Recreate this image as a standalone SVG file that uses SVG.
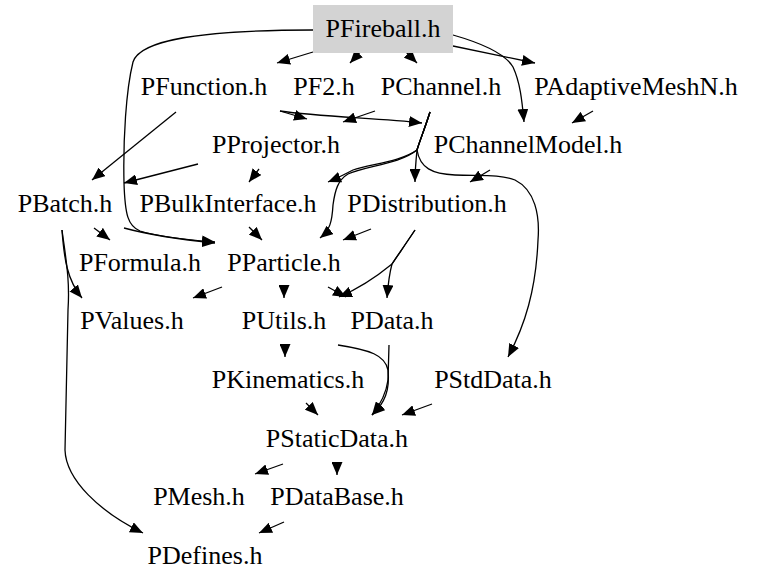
<svg xmlns="http://www.w3.org/2000/svg" width="757" height="587" viewBox="0 0 757 587">
<style>
text{font-family:"Liberation Serif","Times New Roman",serif;font-size:26px;fill:#000;text-anchor:middle}
.e path{fill:none;stroke:#000;stroke-width:1.3}
</style>
<defs>
<marker id="ah" markerUnits="userSpaceOnUse" markerWidth="14" markerHeight="11" refX="13" refY="5.5" orient="auto">
<path d="M0,0 L13,5.5 L0,11 z" fill="#000"/>
</marker>
</defs>
<rect width="757" height="587" fill="#fff"/>
<g class="e" id="edges">
<path marker-end="url(#ah)" d="M313,52 L277,63"/>
<path marker-end="url(#ah)" d="M362,50 L350,63"/>
<path marker-end="url(#ah)" d="M404,50 L417,63"/>
<path marker-end="url(#ah)" d="M453,46 L535,63"/>
<path marker-end="url(#ah)" d="M453,35 C488,45 506,55 513,67 C520,82 522,100 524,122"/>
<path marker-end="url(#ah)" d="M313,30 C200,30 140,40 133,62 C126,90 123,140 124,183 C125,215 128,226 140,231 C160,237 190,240 215,242"/>
<path marker-end="url(#ah)" d="M124,228 C150,235 185,240 215,243"/>
<path marker-end="url(#ah)" d="M176,112 L92,180"/>
<path marker-end="url(#ah)" d="M280,111 L307,119"/>
<path marker-end="url(#ah)" d="M280,111 C320,117 380,118 422,123"/>
<path marker-end="url(#ah)" d="M375,111 L343,122"/>
<path marker-end="url(#ah)" d="M430,112 C425,128 420,140 417,150 C400,162 370,164 353,170 C345,174 338,178 328,182"/>
<path marker-end="url(#ah)" d="M430,112 C425,128 420,140 417,150 C400,164 365,166 348,174 C338,180 335,190 333,205 C332,222 330,230 320,238"/>
<path marker-end="url(#ah)" d="M430,112 C425,128 420,140 417,150 C416,160 415,170 415,182"/>
<path marker-end="url(#ah)" d="M430,112 C425,128 420,140 417,150 C420,168 432,174 455,175 C480,176 500,174 515,180 C535,190 540,215 538,240 C536,290 525,325 508,357"/>
<path marker-end="url(#ah)" d="M490,170 L470,182"/>
<path marker-end="url(#ah)" d="M593,111 L572,123"/>
<path marker-end="url(#ah)" d="M198,164 L124,183"/>
<path marker-end="url(#ah)" d="M259,169 L249,182"/>
<path marker-end="url(#ah)" d="M249,227 L262,240"/>
<path marker-end="url(#ah)" d="M371,229 L343,240"/>
<path marker-end="url(#ah)" d="M415,230 C405,245 398,255 392,264 C389,275 388,285 387,298"/>
<path marker-end="url(#ah)" d="M415,230 C405,245 398,255 392,264 C375,278 360,288 339,297"/>
<path marker-end="url(#ah)" d="M328,287 L346,297"/>
<path marker-end="url(#ah)" d="M284,285 L284,298"/>
<path marker-end="url(#ah)" d="M222,287 L193,298"/>
<path marker-end="url(#ah)" d="M94,228 L110,240"/>
<path marker-end="url(#ah)" d="M62,230 C64,258 67,280 82,298"/>
<path marker-end="url(#ah)" d="M62,230 C66,260 70,280 68,310 L65,450 C66,480 100,512 143,533"/>
<path marker-end="url(#ah)" d="M285,344 L285,357"/>
<path marker-end="url(#ah)" d="M338,345 C370,350 385,355 388,370 C390,390 385,403 372,415"/>
<path marker-end="url(#ah)" d="M389,345 L388,380 C386,395 380,405 372,415"/>
<path marker-end="url(#ah)" d="M306,403 L318,415"/>
<path marker-end="url(#ah)" d="M432,404 L402,415"/>
<path marker-end="url(#ah)" d="M283,464 L255,474"/>
<path marker-end="url(#ah)" d="M337,462 L337,475"/>
<path marker-end="url(#ah)" d="M284,522 L259,533"/>
</g>
<g id="PFireball"><rect x="313" y="5" width="140" height="48" fill="#d3d3d3"/><text x="383" y="37">PFireball.h</text></g>
<g id="PFunction"><text x="204" y="95">PFunction.h</text></g>
<g id="PF2"><text x="324" y="95">PF2.h</text></g>
<g id="PChannel"><text x="441" y="95">PChannel.h</text></g>
<g id="PAdaptiveMeshN"><text x="636" y="95">PAdaptiveMeshN.h</text></g>
<g id="PProjector"><text x="276" y="153">PProjector.h</text></g>
<g id="PChannelModel"><text x="528" y="153">PChannelModel.h</text></g>
<g id="PBatch"><text x="65" y="212">PBatch.h</text></g>
<g id="PBulkInterface"><text x="228" y="212">PBulkInterface.h</text></g>
<g id="PDistribution"><text x="427" y="212">PDistribution.h</text></g>
<g id="PFormula"><text x="140" y="271">PFormula.h</text></g>
<g id="PParticle"><text x="284" y="271">PParticle.h</text></g>
<g id="PValues"><text x="132" y="329">PValues.h</text></g>
<g id="PUtils"><text x="284" y="329">PUtils.h</text></g>
<g id="PData"><text x="392" y="329">PData.h</text></g>
<g id="PKinematics"><text x="288" y="388">PKinematics.h</text></g>
<g id="PStdData"><text x="493" y="388">PStdData.h</text></g>
<g id="PStaticData"><text x="337" y="447">PStaticData.h</text></g>
<g id="PMesh"><text x="199" y="505">PMesh.h</text></g>
<g id="PDataBase"><text x="337" y="505">PDataBase.h</text></g>
<g id="PDefines"><text x="205" y="564">PDefines.h</text></g>
</svg>
